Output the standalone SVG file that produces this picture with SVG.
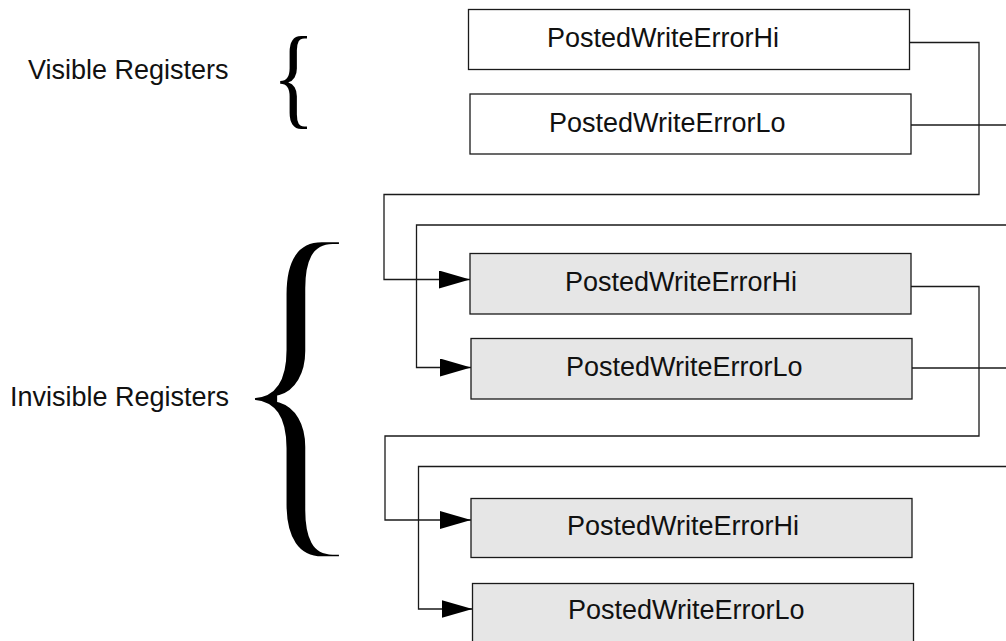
<svg xmlns="http://www.w3.org/2000/svg" width="1006" height="641" viewBox="0 0 1006 641">
<style>
.box{stroke:#1a1a1a;stroke-width:1.3}
.vis{fill:#ffffff}
.inv{fill:#e6e6e6}
.lbl{font-family:"Liberation Sans",Arial,sans-serif;font-size:27px;fill:#111}
.brace{font-family:"Liberation Serif","Times New Roman",serif;fill:#000}
.conn{fill:none;stroke:#1a1a1a;stroke-width:1.3}
</style>
<defs>
<marker id="arr" markerUnits="userSpaceOnUse" markerWidth="32" markerHeight="20" refX="31" refY="9" orient="auto">
<path d="M0,0 L31,9 L0,18 Z" fill="#000"/>
</marker>
</defs>
<rect width="1006" height="641" fill="#fff"/>
<g id="labels">
<text class="lbl" x="28" y="79">Visible Registers</text>
<text class="lbl" x="10" y="406">Invisible Registers</text>
<text class="brace" transform="translate(272,113.5) scale(0.84,1.05)" x="0" y="0" font-size="107">{</text>
<text class="brace" transform="translate(225,508) scale(0.8,1.035)" x="0" y="0" font-size="375" stroke="#fff" stroke-width="7">{</text>
</g>
<g id="connectors">
<path class="conn" d="M909,42.5 H979 V194.5 H384 V279.5 H470" marker-end="url(#arr)"/>
<path class="conn" d="M911,125 H1006"/>
<path class="conn" d="M1006,225 H416.5 V367.5 H471" marker-end="url(#arr)"/>
<path class="conn" d="M911,286.5 H979 V436 H385 V520 H471" marker-end="url(#arr)"/>
<path class="conn" d="M912,368 H1006"/>
<path class="conn" d="M1006,466.5 H418.5 V609 H472.5" marker-end="url(#arr)"/>
</g>
<g id="vis-hi">
<rect class="box vis" x="468.5" y="9.5" width="441" height="60"/>
<text class="lbl" x="547" y="47">PostedWriteErrorHi</text>
</g>
<g id="vis-lo">
<rect class="box vis" x="470" y="94" width="441" height="60"/>
<text class="lbl" x="549" y="132">PostedWriteErrorLo</text>
</g>
<g id="inv1-hi">
<rect class="box inv" x="470" y="253.5" width="441" height="60.5"/>
<text class="lbl" x="565" y="291">PostedWriteErrorHi</text>
</g>
<g id="inv1-lo">
<rect class="box inv" x="471" y="338.5" width="441" height="60.5"/>
<text class="lbl" x="566" y="376">PostedWriteErrorLo</text>
</g>
<g id="inv2-hi">
<rect class="box inv" x="471" y="498.5" width="441" height="59"/>
<text class="lbl" x="567" y="535">PostedWriteErrorHi</text>
</g>
<g id="inv2-lo">
<rect class="box inv" x="472.5" y="583.5" width="441" height="60"/>
<text class="lbl" x="568" y="619">PostedWriteErrorLo</text>
</g>
</svg>
